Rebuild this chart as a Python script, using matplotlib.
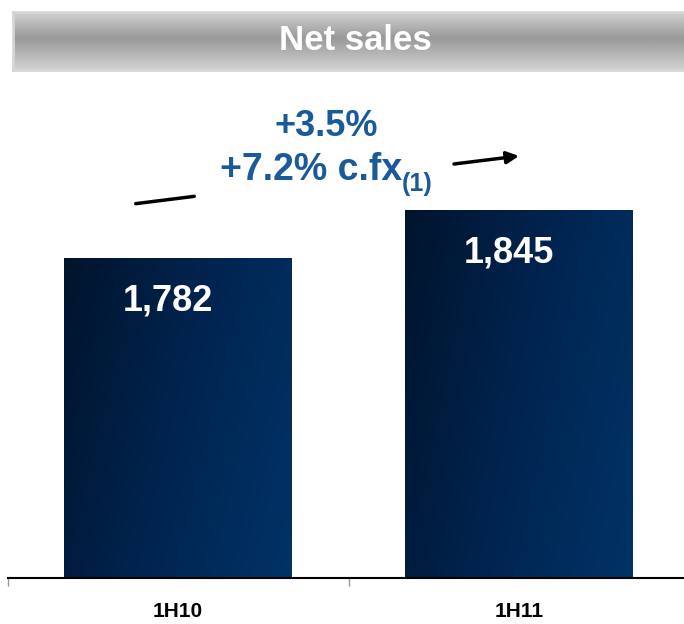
import numpy as np
import matplotlib
matplotlib.use("Agg")
import matplotlib.pyplot as plt
from matplotlib.colors import LinearSegmentedColormap
from matplotlib.patches import Rectangle

categories = ["1H10", "1H11"]
values = [1782, 1845]
value_labels = ["1,782", "1,845"]
title = "Net sales"
growth_line1 = "+3.5%"
growth_line2 = "+7.2% c.fx"
growth_sub = "(1)"

plt.rcParams['font.family'] = ['Liberation Sans', 'DejaVu Sans']
W, H = 684, 624
fig = plt.figure(figsize=(W / 100, H / 100), dpi=100)

# ---- bar chart
ax = fig.add_axes([7.5 / W, 1 - 578 / H, 682 / W, 578 / H])
ax.patch.set_visible(False)
x = np.arange(len(categories))
base = 1362
scale = 320 / (values[0] - base)

cmap = LinearSegmentedColormap.from_list('navy', ['#00142c', '#002450', '#003366'])
bw = 0.668
yy, xx = np.mgrid[0:1:200j, 0:1:200j]
grad = 0.75 * xx + 0.25 * (1 - yy)
for xi, v in zip(x, values):
    rect = Rectangle((xi - bw / 2, base), bw, v - base, facecolor='none',
                     edgecolor='none')
    ax.add_patch(rect)
    im = ax.imshow(grad, cmap=cmap, aspect='auto', origin='lower',
                   extent=[xi - bw / 2, xi + bw / 2, base, v], zorder=2)
    im.set_clip_path(rect)
ax.set_xlim(-0.5, 1.5)
ax.set_ylim(base, base + 578 / scale)

for xi, v, lab in zip(x, values, value_labels):
    ax.annotate(lab, (xi, v), xytext=(-10 * 0.72, -43 * 0.72),
                textcoords='offset points', ha='center', va='center',
                color='white', fontsize=26, fontweight='bold', zorder=3)

for s in ['top', 'right', 'left']:
    ax.spines[s].set_visible(False)
ax.spines['bottom'].set_linewidth(1.5)
ax.spines['bottom'].set_color('black')
ax.set_yticks([])
ax.set_xticks(x)
ax.set_xticklabels(categories, fontsize=15, fontweight='bold')
ax.tick_params(axis='x', which='major', length=0, pad=17)
ax.set_xticks([-0.5, 0.5, 1.5], minor=True)
ax.tick_params(axis='x', which='minor', length=6, color='#999999', width=1)

# ---- title banner (drawn on top)
tax = fig.add_axes([13 / W, 1 - 70 / H, (W - 13 + 5) / W, 58 / H])
g = np.array([0.0, 0.45, 1.0])
grey = np.interp(np.linspace(0, 1, 100), g, [0.82, 0.60, 0.82])
tax.imshow(grey[:, None], cmap='gray', vmin=0, vmax=1, aspect='auto',
           extent=[0, 1, 0, 1], origin='upper')
tax.set_xlim(0, 1); tax.set_ylim(0, 1)
tax.set_xticks([]); tax.set_yticks([])
for s in tax.spines.values():
    s.set_color('#d6d6d6'); s.set_linewidth(2)
fig.text(355 / W, 1 - 41 / H, title, color='white', fontsize=25,
         fontweight='bold', ha='center', va='center')

# ---- growth annotation
blue = '#1b5a9a'
fig.text(326, H - 127, growth_line1, transform=None, color=blue, fontsize=26,
         fontweight='bold', ha='center', va='center')
fig.text(220, H - 180, growth_line2, transform=None, color=blue,
         fontsize=27, fontweight='bold', ha='left', va='baseline')
fig.text(402, H - 191, growth_sub, transform=None, color=blue, fontsize=18,
         fontweight='bold', ha='left', va='baseline')

ax.annotate('', xy=(197, H - 196), xytext=(133, H - 204),
            xycoords='figure pixels', textcoords='figure pixels',
            arrowprops=dict(arrowstyle='-', color='black', lw=2.5))
ax.annotate('', xy=(519, H - 156), xytext=(454, H - 164),
            xycoords='figure pixels', textcoords='figure pixels',
            arrowprops=dict(arrowstyle='-|>', color='black', lw=2.5,
                            mutation_scale=18, shrinkA=0, shrinkB=0))

fig.savefig('out.png', dpi=100)
